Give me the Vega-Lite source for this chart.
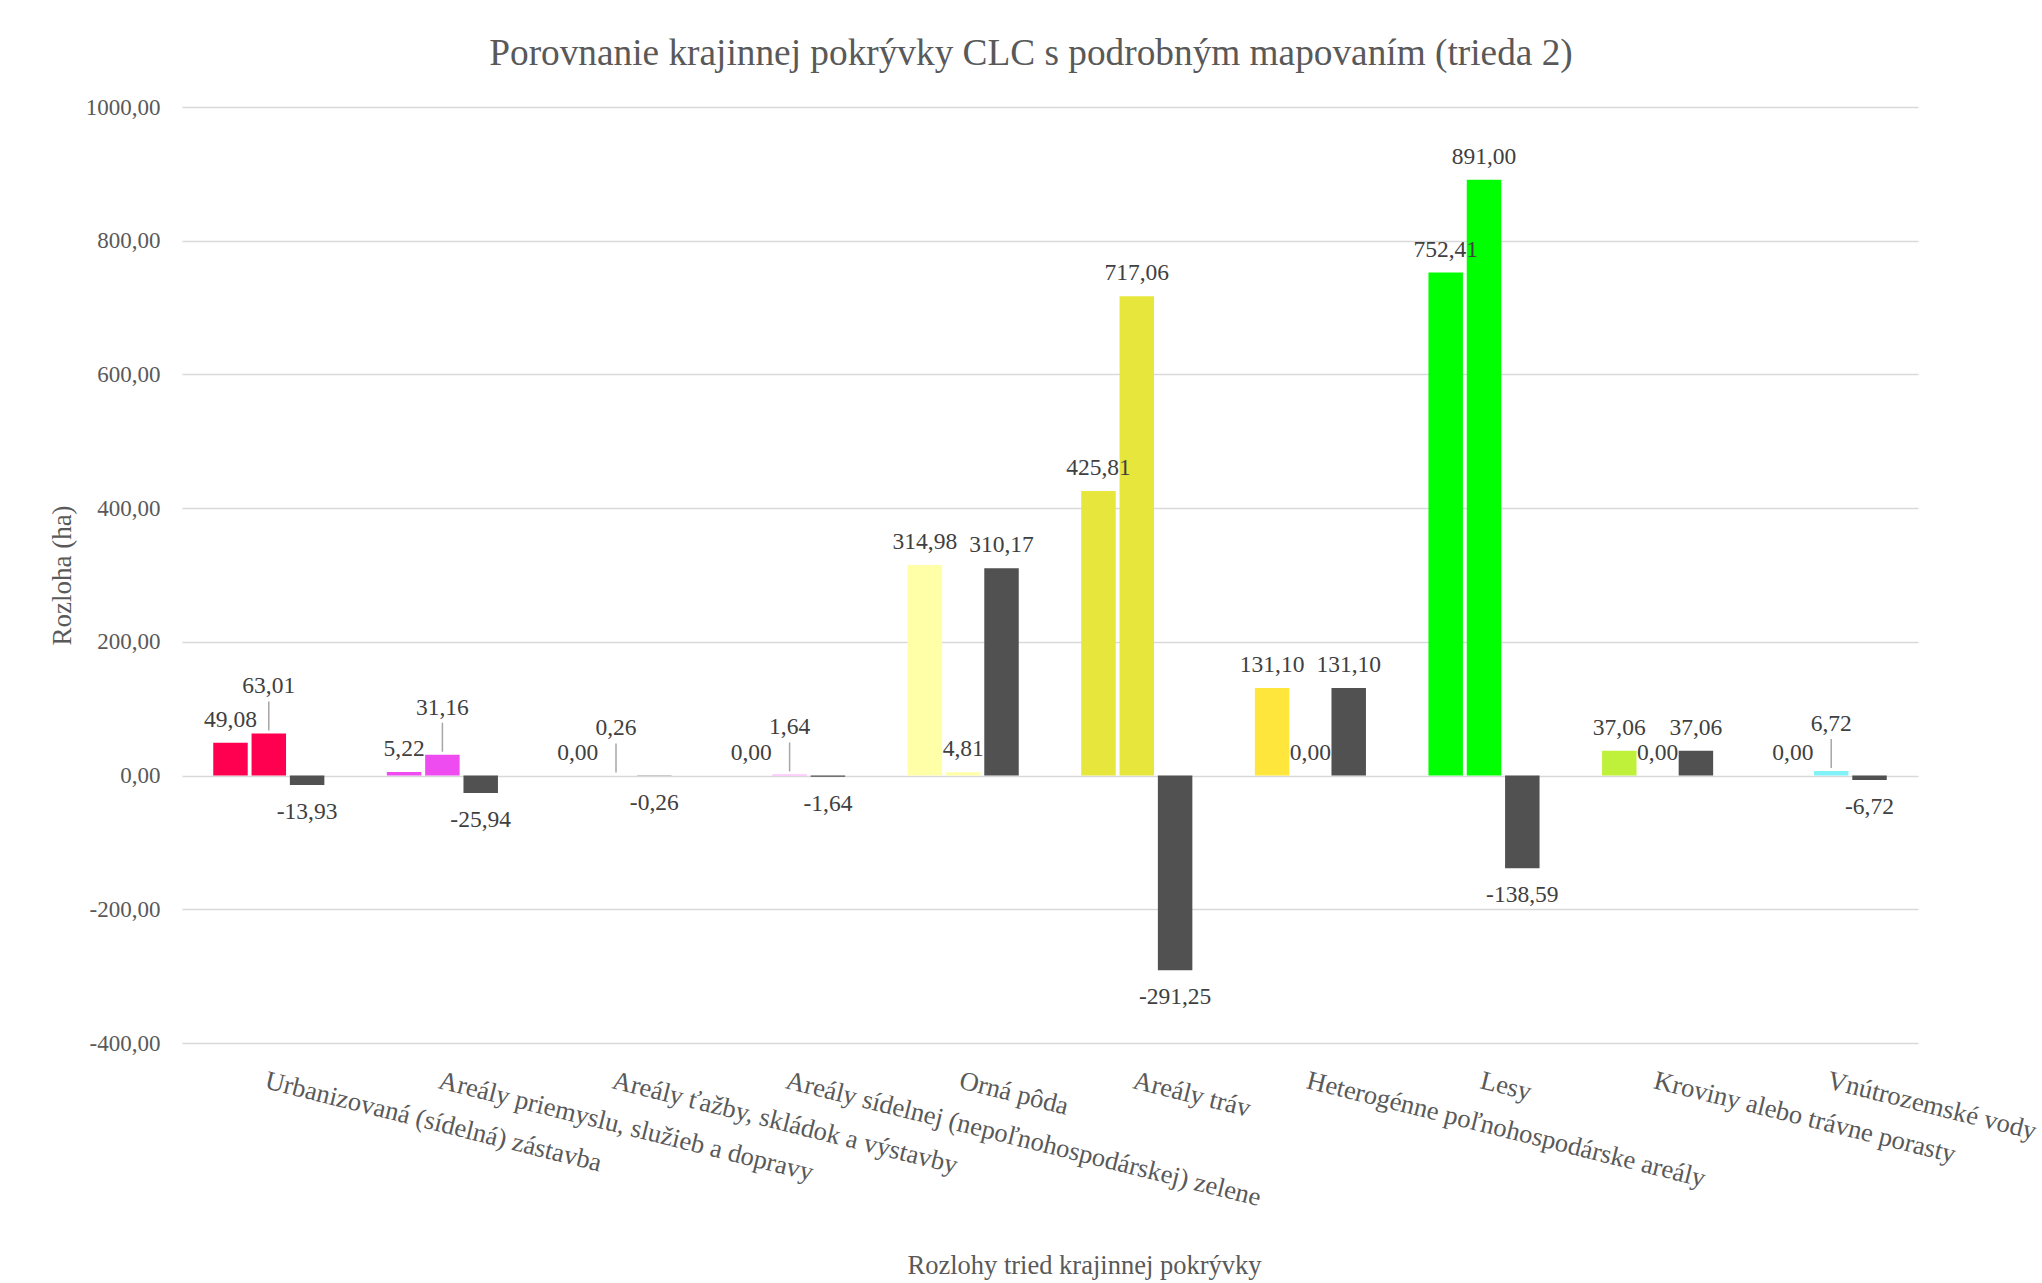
{
  "$schema": "https://vega.github.io/schema/vega-lite/v6.json",
  "width": 1736,
  "height": 936,
  "autosize": {"type": "none"},
  "padding": {"left": 182, "top": 107, "right": 124, "bottom": 240},
  "background": "white",
  "title": {
    "text": "Porovnanie krajinnej pokrývky CLC s podrobným mapovaním (trieda 2)",
    "font": "Liberation Serif",
    "fontSize": 37.3,
    "fontWeight": "normal",
    "color": "#595959",
    "anchor": "middle",
    "dx": -19,
    "offset": 23
  },
  "config": {
    "view": {"stroke": null},
    "locale": {"number": {"decimal": ",", "thousands": " ", "grouping": [3], "currency": ["", " €"], "minus": "-"}},
    "axis": {"labelFont": "Liberation Serif", "titleFont": "Liberation Serif", "labelColor": "#595959", "titleColor": "#595959", "titleFontWeight": "normal"}
  },
  "data": {
    "values": [
      {"trieda": "Urbanizovaná (sídelná) zástavba", "rad": "CLC", "rozloha": 49.08},
      {"trieda": "Urbanizovaná (sídelná) zástavba", "rad": "Podrobné mapovanie", "rozloha": 63.01},
      {"trieda": "Urbanizovaná (sídelná) zástavba", "rad": "Rozdiel", "rozloha": -13.93},
      {"trieda": "Areály priemyslu, služieb a dopravy", "rad": "CLC", "rozloha": 5.22},
      {"trieda": "Areály priemyslu, služieb a dopravy", "rad": "Podrobné mapovanie", "rozloha": 31.16},
      {"trieda": "Areály priemyslu, služieb a dopravy", "rad": "Rozdiel", "rozloha": -25.94},
      {"trieda": "Areály ťažby, skládok a výstavby", "rad": "CLC", "rozloha": 0.0},
      {"trieda": "Areály ťažby, skládok a výstavby", "rad": "Podrobné mapovanie", "rozloha": 0.26},
      {"trieda": "Areály ťažby, skládok a výstavby", "rad": "Rozdiel", "rozloha": -0.26},
      {"trieda": "Areály sídelnej (nepoľnohospodárskej) zelene", "rad": "CLC", "rozloha": 0.0},
      {"trieda": "Areály sídelnej (nepoľnohospodárskej) zelene", "rad": "Podrobné mapovanie", "rozloha": 1.64},
      {"trieda": "Areály sídelnej (nepoľnohospodárskej) zelene", "rad": "Rozdiel", "rozloha": -1.64},
      {"trieda": "Orná pôda", "rad": "CLC", "rozloha": 314.98},
      {"trieda": "Orná pôda", "rad": "Podrobné mapovanie", "rozloha": 4.81},
      {"trieda": "Orná pôda", "rad": "Rozdiel", "rozloha": 310.17},
      {"trieda": "Areály tráv", "rad": "CLC", "rozloha": 425.81},
      {"trieda": "Areály tráv", "rad": "Podrobné mapovanie", "rozloha": 717.06},
      {"trieda": "Areály tráv", "rad": "Rozdiel", "rozloha": -291.25},
      {"trieda": "Heterogénne poľnohospodárske areály", "rad": "CLC", "rozloha": 131.10},
      {"trieda": "Heterogénne poľnohospodárske areály", "rad": "Podrobné mapovanie", "rozloha": 0.0},
      {"trieda": "Heterogénne poľnohospodárske areály", "rad": "Rozdiel", "rozloha": 131.10},
      {"trieda": "Lesy", "rad": "CLC", "rozloha": 752.41},
      {"trieda": "Lesy", "rad": "Podrobné mapovanie", "rozloha": 891.00},
      {"trieda": "Lesy", "rad": "Rozdiel", "rozloha": -138.59},
      {"trieda": "Kroviny alebo trávne porasty", "rad": "CLC", "rozloha": 37.06},
      {"trieda": "Kroviny alebo trávne porasty", "rad": "Podrobné mapovanie", "rozloha": 0.0},
      {"trieda": "Kroviny alebo trávne porasty", "rad": "Rozdiel", "rozloha": 37.06},
      {"trieda": "Vnútrozemské vody", "rad": "CLC", "rozloha": 0.0},
      {"trieda": "Vnútrozemské vody", "rad": "Podrobné mapovanie", "rozloha": 6.72},
      {"trieda": "Vnútrozemské vody", "rad": "Rozdiel", "rozloha": -6.72}
    ]
  },
  "encoding": {
    "x": {
      "field": "trieda",
      "type": "nominal",
      "sort": null,
      "scale": {"paddingInner": 0.36, "paddingOuter": 0.18},
      "axis": {
        "title": "Rozlohy tried krajinnej pokrývky",
        "titleFontSize": 26.5,
        "titleX": 902,
        "titleY": 222,
        "titleAlign": "center",
        "titleBaseline": "middle",
        "labelAngle": 14,
        "labelAlign": "left",
        "labelBaseline": "top",
        "labelPadding": 24,
        "labelFontSize": 26.5,
        "labelLimit": 1000,
        "labelOverlap": false,
        "labelBound": false,
        "ticks": false,
        "domain": false,
        "grid": false
      }
    },
    "xOffset": {
      "field": "rad",
      "type": "nominal",
      "sort": ["CLC", "Podrobné mapovanie", "Rozdiel"],
      "scale": {"paddingInner": 0.1, "paddingOuter": 0}
    },
    "y": {
      "field": "rozloha",
      "type": "quantitative",
      "scale": {"domain": [-400, 1000], "nice": false},
      "axis": {
        "title": "Rozloha (ha)",
        "titleFontSize": 27,
        "titleAngle": -90,
        "titleX": -120,
        "titleY": 468,
        "titleAlign": "center",
        "titleBaseline": "middle",
        "values": [-400, -200, 0, 200, 400, 600, 800, 1000],
        "format": ".2f",
        "labelFontSize": 23,
        "labelPadding": 22,
        "ticks": false,
        "domain": false,
        "grid": true,
        "gridColor": "#D9D9D9",
        "gridWidth": 1.5
      }
    }
  },
  "layer": [
    {
      "mark": {"type": "bar"},
      "encoding": {
        "color": {
          "condition": {"test": "datum.rad === 'Rozdiel'", "value": "#515151"},
          "field": "trieda",
          "type": "nominal",
          "sort": null,
          "scale": {
            "domain": [
              "Urbanizovaná (sídelná) zástavba",
              "Areály priemyslu, služieb a dopravy",
              "Areály ťažby, skládok a výstavby",
              "Areály sídelnej (nepoľnohospodárskej) zelene",
              "Orná pôda",
              "Areály tráv",
              "Heterogénne poľnohospodárske areály",
              "Lesy",
              "Kroviny alebo trávne porasty",
              "Vnútrozemské vody"
            ],
            "range": ["#FF0050", "#EE4BF0", "#A600CC", "#FFA6FF", "#FFFFA8", "#E6E63C", "#FFE63C", "#00FF00", "#BFF03A", "#80F2F8"]
          },
          "legend": null
        }
      }
    },
    {
      "transform": [{"filter": "datum.rad === 'Podrobné mapovanie' && datum.rozloha > 0 && datum.rozloha < 70 && datum.trieda !== 'Orná pôda'"}],
      "mark": {"type": "rule", "color": "#A6A6A6", "strokeWidth": 1.5, "yOffset": -3, "y2Offset": -32},
      "encoding": {"y2": {"field": "rozloha"}}
    },
    {
      "transform": [{"filter": "datum.rozloha >= 0 && !(datum.rad === 'Podrobné mapovanie' && datum.rozloha > 0 && datum.rozloha < 70 && datum.trieda !== 'Orná pôda')"}],
      "mark": {"type": "text", "font": "Liberation Serif", "fontSize": 23.5, "color": "#404040", "baseline": "alphabetic", "dy": -16},
      "encoding": {"text": {"field": "rozloha", "type": "quantitative", "format": ".2f"}}
    },
    {
      "transform": [{"filter": "datum.rad === 'Podrobné mapovanie' && datum.rozloha > 0 && datum.rozloha < 70 && datum.trieda !== 'Orná pôda'"}],
      "mark": {"type": "text", "font": "Liberation Serif", "fontSize": 23.5, "color": "#404040", "baseline": "alphabetic", "dy": -40},
      "encoding": {"text": {"field": "rozloha", "type": "quantitative", "format": ".2f"}}
    },
    {
      "transform": [{"filter": "datum.rozloha < 0"}],
      "mark": {"type": "text", "font": "Liberation Serif", "fontSize": 23.5, "color": "#404040", "baseline": "top", "dy": 15},
      "encoding": {"text": {"field": "rozloha", "type": "quantitative", "format": ".2f"}}
    }
  ]
}
